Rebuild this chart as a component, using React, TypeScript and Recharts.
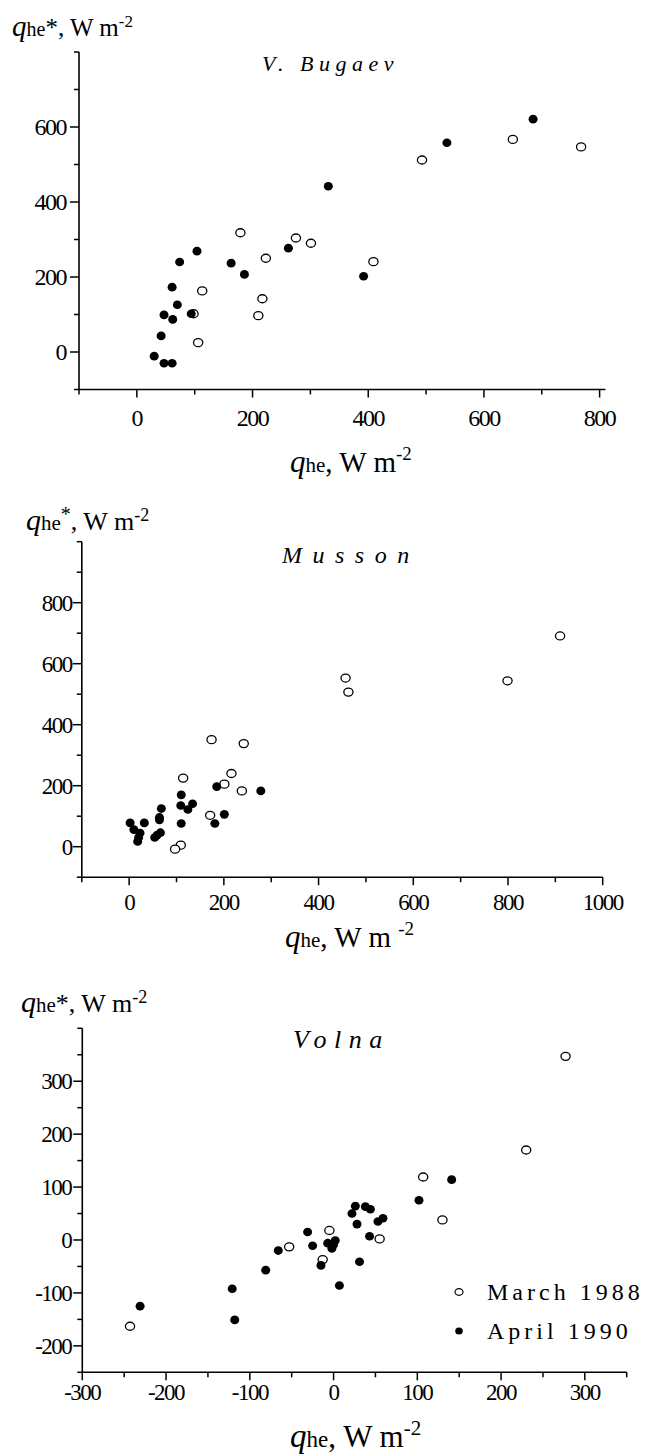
import React from 'react';
import { ScatterChart, Scatter, XAxis, YAxis } from 'recharts';

const FONT = 'Liberation Serif';

// [q_he, q_he*] pairs
const bugaevMarch = [
  [493, 512], [179, 318], [275, 304], [301, 290], [223, 250], [409, 241], [113, 163],
  [217, 142], [210, 97], [98, 102], [106, 25], [650, 567], [768, 547],
];
const bugaevApril = [
  [331, 442], [392, 202], [262, 277], [163, 237], [186, 207], [104, 269], [74, 240],
  [61, 173], [70, 126], [47, 99], [62, 87], [94, 102], [42, 43], [30, -11], [47, -30],
  [61, -30], [536, 558], [685, 621],
];
const mussonMarch = [
  [457, 553], [463, 507], [174, 351], [242, 338], [114, 225], [216, 240], [201, 205],
  [238, 183], [171, 103], [109, 5], [97, -8], [910, 691], [799, 544],
];
const mussonApril = [
  [278, 183], [185, 197], [201, 106], [181, 76], [110, 170], [109, 135], [124, 122],
  [134, 141], [110, 76], [68, 125], [64, 96], [64, 88], [66, 46], [59, 38], [54, 30],
  [2, 78], [10, 56], [23, 45], [32, 78], [20, 30], [18, 17],
];
const volnaMarch = [
  [-243, -163], [-53, -13], [-13, -37], [-5, 18], [55, 2], [107, 119], [130, 38],
  [277, 347], [230, 170],
];
const volnaApril = [
  [-231, -125], [-121, -92], [-118, -151], [-81, -57], [-66, -20], [-31, 15], [-25, -11],
  [-15, -48], [-7, -6], [-2, -16], [0, -9], [2, -1], [7, -86], [22, 50], [26, 64],
  [28, 30], [31, -41], [38, 63], [44, 58], [43, 7], [53, 35], [59, 41], [102, 75], [141, 114],
];

// ticks (all) and the ones that carry a label
const bugaevXTicks = [-100, 0, 100, 200, 300, 400, 500, 600, 700, 800];
const bugaevXLabels = [0, 200, 400, 600, 800];
const bugaevYTicks = [-100, 0, 100, 200, 300, 400, 500, 600, 700, 800];
const bugaevYLabels = [0, 200, 400, 600];
const mussonXTicks = [-100, 0, 100, 200, 300, 400, 500, 600, 700, 800, 900, 1000];
const mussonXLabels = [0, 200, 400, 600, 800, 1000];
const mussonYTicks = [-100, 0, 100, 200, 300, 400, 500, 600, 700, 800, 900, 1000];
const mussonYLabels = [0, 200, 400, 600, 800];
const volnaXTicks = [-300, -250, -200, -150, -100, -50, 0, 50, 100, 150, 200, 250, 300, 350];
const volnaXLabels = [-300, -200, -100, 0, 100, 200, 300];
const volnaYTicks = [-250, -200, -150, -100, -50, 0, 50, 100, 150, 200, 250, 300, 350, 400];
const volnaYLabels = [-200, -100, 0, 100, 200, 300];

const legendNames = ['March 1988', 'April 1990'];

const toPoints = (arr: number[][]) => arr.map(([x, y]) => ({ x, y }));

const openDot = (p: any) => (
  <ellipse cx={p.cx} cy={p.cy} rx={4.6} ry={4} fill="#fff" stroke="#000" strokeWidth={1.3} />
);
const fullDot = (p: any) => <ellipse cx={p.cx} cy={p.cy} rx={4.5} ry={4.3} fill="#000" />;

function makeXTick(labels: number[], fontSize: number, dy: number) {
  return (props: any) => {
    const { x, y, payload } = props;
    const major = labels.includes(payload.value);
    return (
      <g>
        <line x1={x} x2={x} y1={y} y2={y + (major ? 8 : 5)} stroke="#000" strokeWidth={1.5} />
        {major && (
          <text x={x} y={y + dy} textAnchor="middle" fontSize={fontSize} fontFamily={FONT}
            letterSpacing={-1.5} fill="#000">
            {payload.value}
          </text>
        )}
      </g>
    );
  };
}

function makeYTick(labels: number[], fontSize: number, gap: number) {
  return (props: any) => {
    const { x, y, payload } = props;
    const major = labels.includes(payload.value);
    return (
      <g>
        <line x1={x} x2={x - (major ? 9 : 5)} y1={y} y2={y} stroke="#000" strokeWidth={1.5} />
        {major && (
          <text x={x - 9 - gap} y={y} dy="0.35em" textAnchor="end" fontSize={fontSize}
            fontFamily={FONT} letterSpacing={-1.5} fill="#000">
            {payload.value}
          </text>
        )}
      </g>
    );
  };
}

interface PanelProps {
  top: number;
  height: number;
  margin: { top: number; right: number; bottom: number; left: number };
  xDomain: [number, number];
  yDomain: [number, number];
  xTicks: number[];
  xLabels: number[];
  yTicks: number[];
  yLabels: number[];
  march: number[][];
  april: number[][];
  fontSize: number;
  xDy: number;
  yGap: number;
}

function Panel(p: PanelProps) {
  // axes are 1px wide/high (0 would hide them), so the margin gives up that pixel
  const m = { ...p.margin, left: p.margin.left - 1, bottom: p.margin.bottom - 1 };
  return (
    <div style={{ position: 'absolute', left: 0, top: p.top }}>
      <ScatterChart width={653} height={p.height} margin={m}>
        <XAxis type="number" dataKey="x" domain={p.xDomain} ticks={p.xTicks} interval={0}
          height={1} tickSize={0} tickMargin={0} tickLine={false} allowDataOverflow
          axisLine={{ stroke: '#000', strokeWidth: 1.6 }}
          tick={makeXTick(p.xLabels, p.fontSize, p.xDy)} />
        <YAxis type="number" dataKey="y" domain={p.yDomain} ticks={p.yTicks} interval={0}
          width={1} tickSize={0} tickMargin={0} tickLine={false} allowDataOverflow
          axisLine={{ stroke: '#000', strokeWidth: 1.6 }}
          tick={makeYTick(p.yLabels, p.fontSize, p.yGap)} />
        <Scatter name={legendNames[0]} data={toPoints(p.march)} shape={openDot} isAnimationActive={false} />
        <Scatter name={legendNames[1]} data={toPoints(p.april)} shape={fullDot} isAnimationActive={false} />
      </ScatterChart>
    </div>
  );
}

function YTitle({ x, y, size, starUp }: { x: number; y: number; size: number; starUp?: boolean }) {
  return (
    <text x={x} y={y} fontFamily={FONT} fontSize={size} fill="#000">
      <tspan fontStyle="italic" fontSize={size + 4}>q</tspan>
      <tspan fontSize={size - 5}>he</tspan>
      {starUp ? (
        <>
          <tspan fontSize={size - 6} dy={-9}>*</tspan>
          <tspan dy={9}>, W m</tspan>
        </>
      ) : (
        <tspan>*, W m</tspan>
      )}
      <tspan fontSize={size - 8} dy={-9}>-2</tspan>
    </text>
  );
}

function XTitle({ x, y, size, spaced }: { x: number; y: number; size: number; spaced?: boolean }) {
  return (
    <text x={x} y={y} fontFamily={FONT} fontSize={size} fill="#000">
      <tspan fontStyle="italic" fontSize={size + 2}>q</tspan>
      <tspan fontSize={size - 8}>he</tspan>
      <tspan>{spaced ? ', W m ' : ', W m'}</tspan>
      <tspan fontSize={size - 10} dy={-12}>-2</tspan>
    </text>
  );
}

export default function App() {
  return (
    <div style={{ position: 'absolute', left: 0, top: 0, width: 653, height: 1456, background: '#fff' }}>
      <Panel top={0} height={480} margin={{ top: 52, right: 47.6, bottom: 90.5, left: 79 }}
        xDomain={[-100, 810]} yDomain={[-100, 800]}
        xTicks={bugaevXTicks} xLabels={bugaevXLabels} yTicks={bugaevYTicks} yLabels={bugaevYLabels}
        march={bugaevMarch} april={bugaevApril} fontSize={24} xDy={36} yGap={4} />
      <Panel top={480} height={490} margin={{ top: 61.7, right: 50.3, bottom: 92.8, left: 81.8 }}
        xDomain={[-100, 1000]} yDomain={[-100, 1000]}
        xTicks={mussonXTicks} xLabels={mussonXLabels} yTicks={mussonYTicks} yLabels={mussonYLabels}
        march={mussonMarch} april={mussonApril} fontSize={23} xDy={33} yGap={1} />
      <Panel top={970} height={486} margin={{ top: 58.3, right: 26.3, bottom: 83.7, left: 82.3 }}
        xDomain={[-300, 350]} yDomain={[-250, 400]}
        xTicks={volnaXTicks} xLabels={volnaXLabels} yTicks={volnaYTicks} yLabels={volnaYLabels}
        march={volnaMarch} april={volnaApril} fontSize={23} xDy={28} yGap={2} />
      <svg width={653} height={1456} style={{ position: 'absolute', left: 0, top: 0, pointerEvents: 'none' }}>
        <YTitle x={12} y={36} size={25} />
        <text x={262} y={71} fontFamily={FONT} fontSize={22} fontStyle="italic" letterSpacing={5.5}>V. Bugaev</text>
        <XTitle x={290} y={472} size={29} />

        <YTitle x={26} y={530} size={26} starUp />
        <text x={282} y={563} fontFamily={FONT} fontSize={24} fontStyle="italic" letterSpacing={10.5}>Musson</text>
        <XTitle x={285} y={947} size={29} spaced />

        <YTitle x={21} y={1012} size={26} />
        <text x={293} y={1048} fontFamily={FONT} fontSize={26} fontStyle="italic" letterSpacing={7.5}>Volna</text>
        <XTitle x={290} y={1447} size={31} />

        {/* legend */}
        <ellipse cx={459} cy={1292} rx={4} ry={3.4} fill="#fff" stroke="#000" strokeWidth={1.2} />
        <text x={487} y={1300} fontFamily={FONT} fontSize={24} letterSpacing={4}>{legendNames[0]}</text>
        <ellipse cx={459} cy={1331} rx={3.8} ry={3.6} fill="#000" />
        <text x={487} y={1339} fontFamily={FONT} fontSize={24} letterSpacing={4}>{legendNames[1]}</text>
      </svg>
    </div>
  );
}
